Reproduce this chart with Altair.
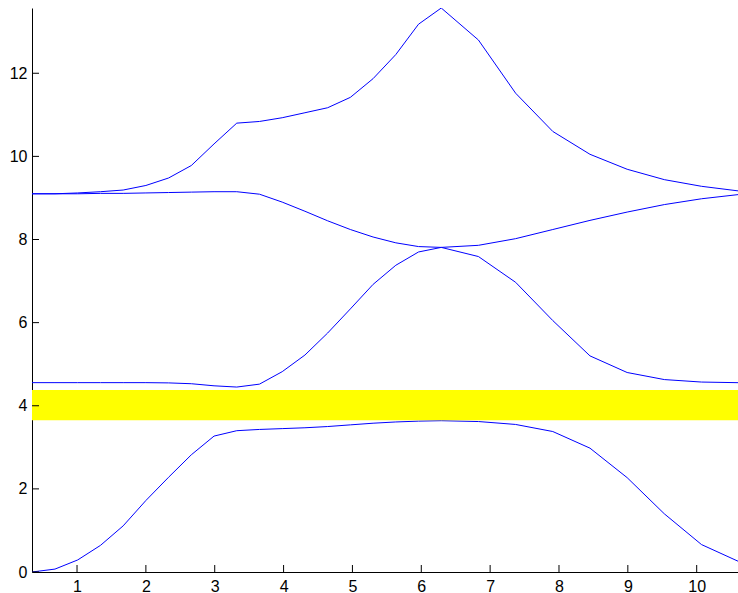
import altair as alt
import pandas as pd

# wave-vector positions along the path (three segments)
k = [0.346, 0.68, 1.01, 1.34, 1.67, 2.00, 2.33, 2.66, 2.99, 3.32,
     3.65, 3.98, 4.31, 4.64, 4.97, 5.30, 5.63, 5.96, 6.29,
     6.83, 7.37, 7.91, 8.45, 8.99, 9.53, 10.07, 10.60]

band1 = [0.00, 0.07, 0.29, 0.64, 1.11, 1.72, 2.28, 2.82, 3.27, 3.40,
         3.43, 3.45, 3.47, 3.50, 3.54, 3.58, 3.61, 3.63, 3.64,
         3.62, 3.55, 3.38, 2.98, 2.27, 1.40, 0.66, 0.26]

band2 = [4.556, 4.556, 4.556, 4.556, 4.556, 4.556, 4.55, 4.53, 4.48, 4.45,
         4.52, 4.82, 5.22, 5.75, 6.33, 6.92, 7.38, 7.70, 7.81,
         7.59, 6.97, 6.05, 5.20, 4.80, 4.63, 4.57, 4.555]

band3 = [9.10, 9.10, 9.10, 9.11, 9.11, 9.12, 9.13, 9.14, 9.15, 9.15,
         9.09, 8.90, 8.68, 8.45, 8.24, 8.06, 7.92, 7.83, 7.81,
         7.86, 8.02, 8.24, 8.46, 8.66, 8.84, 8.98, 9.08]

band4 = [9.10, 9.10, 9.12, 9.15, 9.19, 9.30, 9.48, 9.78, 10.30, 10.80,
         10.84, 10.93, 11.05, 11.17, 11.42, 11.87, 12.45, 13.18, 13.57,
         12.80, 11.52, 10.60, 10.05, 9.69, 9.44, 9.28, 9.17]

# band gap limits
gap_low = 3.65
gap_high = 4.38

x_ticks = [1, 2, 3, 4, 5, 6, 7, 8, 9, 10]
y_ticks = [0, 2, 4, 6, 8, 10, 12]

x_min, x_max = 0.346, 10.60
y_min, y_max = 0.0, 13.57

rows = []
for name, vals in [("b1", band1), ("b2", band2), ("b3", band3), ("b4", band4)]:
    for i, (kk, v) in enumerate(zip(k, vals)):
        rows.append({"band": name, "idx": i, "k": kk, "f": v})
df = pd.DataFrame(rows)

x_scale = alt.Scale(domain=[x_min, x_max], nice=False, zero=False)
y_scale = alt.Scale(domain=[y_min, y_max], nice=False, zero=False)

FONT = "Liberation Sans"

x_axis = alt.Axis(values=x_ticks, title=None, grid=False, tickSize=0,
                  domainColor="#000000", domainWidth=1, format="d",
                  labelFont=FONT, labelFontSize=16, labelColor="#000000",
                  labelPadding=6)
y_axis = alt.Axis(values=y_ticks, title=None, grid=False, tickSize=0,
                  domainColor="#000000", domainWidth=1, format="d",
                  labelFont=FONT, labelFontSize=16, labelColor="#000000",
                  labelPadding=5)

gap = alt.Chart(pd.DataFrame({"lo": [gap_low], "hi": [gap_high]})).mark_rect(
    color="#ffff00"
).encode(
    y=alt.Y("lo:Q", scale=y_scale, axis=y_axis),
    y2="hi:Q",
    x=alt.value(0),
    x2=alt.value("width"),
)

lines = alt.Chart(df).mark_line(color="#0000ff", strokeWidth=1, clip=True).encode(
    x=alt.X("k:Q", scale=x_scale, axis=x_axis),
    y=alt.Y("f:Q", scale=y_scale, axis=y_axis),
    detail="band:N",
    order="idx:Q",
)

# inward-pointing tick marks
ytick = alt.Chart(pd.DataFrame({"v": y_ticks})).mark_rule(color="#000000", strokeWidth=1).encode(
    y=alt.Y("v:Q", scale=y_scale, axis=y_axis),
    x=alt.value(0),
    x2=alt.value(7),
)
xtick = alt.Chart(pd.DataFrame({"v": x_ticks})).mark_rule(color="#000000", strokeWidth=1).encode(
    x=alt.X("v:Q", scale=x_scale, axis=x_axis),
    y=alt.value({"expr": "height"}),
    y2=alt.value({"expr": "height - 7"}),
)

chart = alt.layer(lines, gap, ytick, xtick).properties(
    width=706,
    height=564,
    padding={"left": 32, "top": 8, "right": 0, "bottom": 21},
    autosize=alt.AutoSizeParams(type="none"),
    background="#ffffff",
).configure_view(stroke=None)

chart.save("out.html", embed_options={"renderer": "svg", "actions": False})
